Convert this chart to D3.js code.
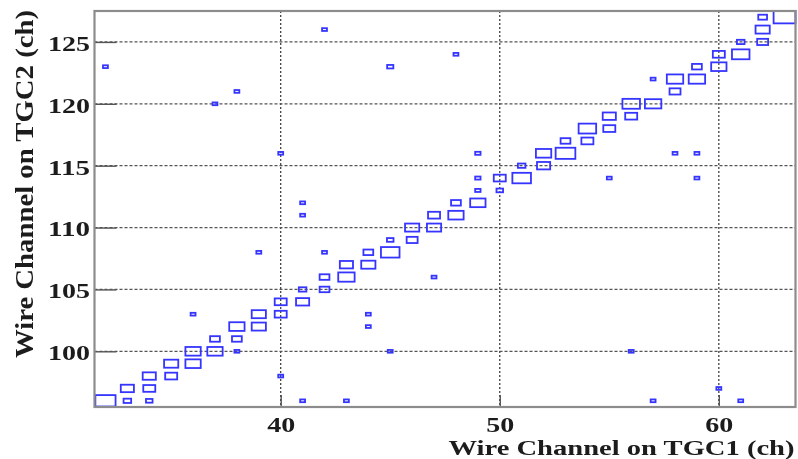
<!DOCTYPE html>
<html>
<head>
<meta charset="utf-8">
<script src="https://cdn.jsdelivr.net/npm/d3@7"></script>
<style>
  body { margin: 0; background: #fff; }
  svg text { font-family: "Liberation Serif", "Times New Roman", serif; font-weight: bold; fill: #1a1a1a; }
</style>
</head>
<body>
<svg id="hist" width="798" height="459"></svg>
<script>
// bin centres (TGC1, TGC2) and the bin content
let cellX = [32, 33, 33, 34, 34, 34, 35, 35, 36, 36, 37, 37, 38, 38, 39, 39, 40, 40,
             41, 41, 42, 42, 43, 43, 44, 44, 45, 45, 46, 46, 47, 47, 48, 48, 49, 49, 49,
             50, 50, 51, 51, 52, 52, 53, 53, 54, 54, 55, 55, 56, 56, 57, 58, 58, 59, 59,
             60, 60, 61, 61, 62, 62, 62, 63,
             32, 37, 38, 42, 45, 40, 41, 41, 42, 39, 36, 44, 44, 45, 38, 40, 41, 43,
             47, 48, 49, 55, 58, 59, 59, 57, 56, 57, 60, 61];
let cellY = [96, 96, 97, 96, 97, 98, 98, 99, 99, 100, 100, 101, 101, 102, 102, 103, 103, 104,
             104, 105, 105, 106, 106, 107, 107, 108, 108, 109, 109, 110, 110, 111, 111, 112, 112, 113, 114,
             113, 114, 114, 115, 115, 116, 116, 117, 117, 118, 118, 119, 119, 120, 120, 121, 122, 122, 123,
             123, 124, 124, 125, 125, 126, 127, 127,
             123, 120, 121, 126, 123, 116, 112, 111, 108, 108, 103, 103, 102, 100, 100, 98, 96, 96,
             106, 124, 116, 114, 116, 116, 114, 122, 100, 96, 97, 96];
let cellN = [85, 12, 36, 9, 30, 36, 30, 42, 49, 49, 49, 20, 20, 49, 42, 42, 30, 30,
             36, 12, 20, 20, 56, 36, 42, 20, 72, 9, 25, 42, 42, 30, 49, 20, 49, 6, 6,
             9, 30, 72, 12, 36, 49, 81, 20, 30, 64, 30, 36, 30, 64, 56, 25, 56, 56, 20,
             49, 30, 64, 12, 25, 42, 16, 100,
             5, 5, 5, 5, 8, 5, 5, 5, 5, 5, 5, 5, 5, 5, 5, 5, 5, 5,
             5, 5, 6, 5, 5, 5, 5, 5, 5, 5, 5, 5];

let xTicks = [40, 50, 60];
let yTicks = [100, 105, 110, 115, 120, 125];
let xTitle = "Wire Channel on TGC1 (ch)";
let yTitle = "Wire Channel on TGC2 (ch)";

let frame = {left: 94.5, right: 795.5, top: 11, bottom: 407};

let x = d3.scaleLinear().domain([31.5, 63.5]).range([frame.left, frame.right]);
let y = d3.scaleLinear().domain([95.5, 127.5]).range([frame.bottom, frame.top]);
let size = d3.scaleSqrt().domain([0, d3.max(cellN)]).range([0, 1]);

let svg = d3.select("svg#hist");

svg.append("defs").append("filter")
    .attr("id", "soft")
  .append("feGaussianBlur")
    .attr("stdDeviation", 0.45);

let g = svg.append("g").attr("filter", "url(#soft)");

function drawGrid() {
  g.append("g").attr("class", "grid")
    .selectAll("line.gx").data(xTicks)
    .enter().append("line")
      .attr("x1", function(d) { return x(d); })
      .attr("x2", function(d) { return x(d); })
      .attr("y1", frame.top)
      .attr("y2", frame.bottom)
      .attr("stroke", "#333")
      .attr("stroke-width", 1.2)
      .attr("stroke-dasharray", "2,2");

  g.append("g").attr("class", "grid")
    .selectAll("line.gy").data(yTicks)
    .enter().append("line")
      .attr("x1", frame.left)
      .attr("x2", frame.right)
      .attr("y1", function(d) { return y(d); })
      .attr("y2", function(d) { return y(d); })
      .attr("stroke", "#555")
      .attr("stroke-width", 1.2)
      .attr("stroke-dasharray", "3,2");
}

function drawTicks() {
  // minor and major ticks pointing into the frame
  let xMinor = d3.range(32, 64, 2);
  let yMinor = d3.range(96, 128, 1);

  let bx = g.append("g").attr("transform", "translate(0," + frame.bottom + ")");
  bx.call(d3.axisBottom(x).tickValues(xMinor).tickSize(-6).tickFormat(""));
  bx.call(d3.axisBottom(x).tickValues(xTicks).tickSize(-12).tickFormat(""));
  bx.selectAll("path.domain").remove();
  bx.selectAll("line").attr("stroke", "#555").attr("stroke-width", 1.4);

  let ly = g.append("g").attr("transform", "translate(" + frame.left + ",0)");
  ly.call(d3.axisLeft(y).tickValues(yMinor).tickSize(-11).tickFormat(""));
  ly.call(d3.axisLeft(y).tickValues(yTicks).tickSize(-22).tickFormat(""));
  ly.selectAll("path.domain").remove();
  ly.selectAll("line").attr("stroke", "#555").attr("stroke-width", 1.4);
}

function drawLabels() {
  let lx = g.append("g").attr("transform", "translate(0," + frame.bottom + ")")
            .call(d3.axisBottom(x).tickValues(xTicks).tickSize(0));
  lx.selectAll("path.domain").remove();
  lx.selectAll("text")
      .attr("y", 25)
      .attr("dy", null)
      .attr("font-size", 20)
      .attr("textLength", function(d) { return 14 * String(d).length; })
      .attr("lengthAdjust", "spacingAndGlyphs");

  let lyy = g.append("g").attr("transform", "translate(" + frame.left + ",0)")
             .call(d3.axisLeft(y).tickValues(yTicks).tickSize(0));
  lyy.selectAll("path.domain").remove();
  lyy.selectAll("text")
      .attr("x", -4.5)
      .attr("dy", "0.38em")
      .attr("font-size", 22)
      .attr("textLength", function(d) { return 14 * String(d).length; })
      .attr("lengthAdjust", "spacingAndGlyphs");

  g.append("text")
      .attr("x", frame.right - 1)
      .attr("y", 454.5)
      .attr("text-anchor", "end")
      .attr("font-size", 20)
      .attr("textLength", 346)
      .attr("lengthAdjust", "spacingAndGlyphs")
      .text(xTitle);

  g.append("text")
      .attr("transform", "translate(33,358) rotate(-90)")
      .attr("font-size", 26)
      .attr("textLength", 348)
      .attr("lengthAdjust", "spacingAndGlyphs")
      .text(yTitle);
}

function drawBoxes() {
  let cells = cellN.map(function(n, i) { return {x: cellX[i], y: cellY[i], n: n}; });
  let bw = x(1) - x(0);
  let bh = y(0) - y(1);

  g.append("g").attr("class", "boxes")
    .selectAll("rect").data(cells)
    .enter().append("rect")
      .attr("x", function(d) { return x(d.x) - bw * size(d.n) / 2; })
      .attr("y", function(d) { return y(d.y) - bh * size(d.n) / 2; })
      .attr("width", function(d) { return bw * size(d.n); })
      .attr("height", function(d) { return bh * size(d.n); })
      .attr("fill", "none")
      .attr("stroke", "#3535ff")
      .attr("stroke-width", 1.8);
}

function drawFrame() {
  g.append("rect")
      .attr("x", frame.left)
      .attr("y", frame.top)
      .attr("width", frame.right - frame.left)
      .attr("height", frame.bottom - frame.top)
      .attr("fill", "none")
      .attr("stroke", "#8c8c8c")
      .attr("stroke-width", 2.2);
}

drawGrid();
drawTicks();
drawBoxes();
drawFrame();
drawLabels();
</script>
</body>
</html>
